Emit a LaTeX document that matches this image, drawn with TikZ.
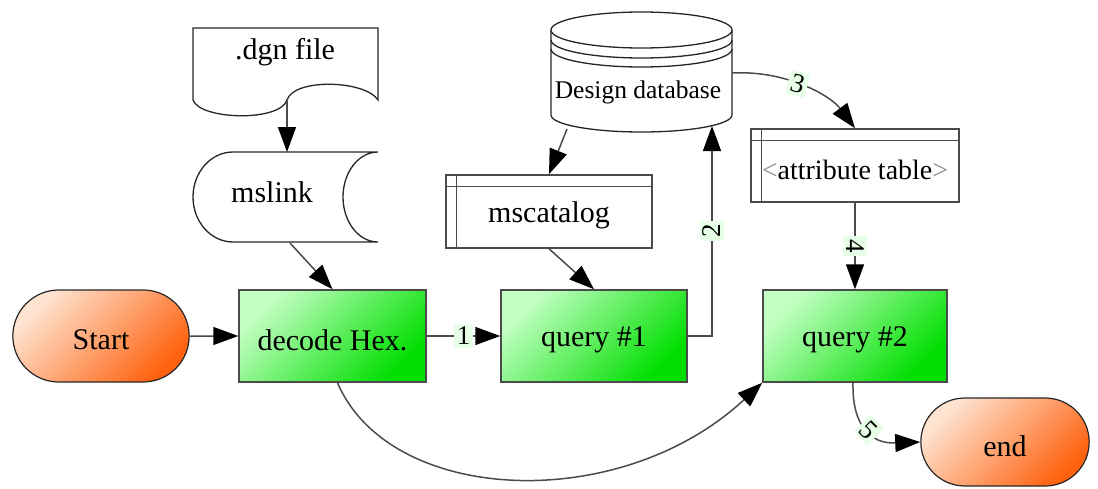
\documentclass[tikz,border=0pt]{standalone}
\usepackage{fontspec}
\setmainfont{LiberationSerif}[Extension=.ttf, UprightFont=*-Regular, BoldFont=*-Bold, ItalicFont=*-Italic, BoldItalicFont=*-BoldItalic]
\usetikzlibrary{shapes.misc,arrows.meta}
\definecolor{gtop}{RGB}{195,255,195}
\definecolor{gbot}{RGB}{0,222,0}
\definecolor{otop}{RGB}{255,228,210}
\definecolor{obot}{RGB}{255,98,15}
\definecolor{labbg}{RGB}{230,255,230}
\definecolor{lin}{RGB}{75,75,75}
\newcommand{\lowtxt}[1]{\raisebox{-4pt}[\height][\depth]{#1}}
\begin{document}
\begin{tikzpicture}[x=1pt,y=-1pt,
  proc/.style={draw=lin, line width=1.5pt, minimum width=186pt, minimum height=92pt,
    top color=gtop, bottom color=gbot, shading angle=45, font=\fontsize{30}{34}\selectfont},
  term/.style={rounded rectangle, draw=black!85, line width=1.2pt, minimum width=183pt, minimum height=92pt,
    top color=otop, bottom color=obot, shading angle=45, font=\fontsize{30}{34}\selectfont},
  tabbox/.style={draw=lin, line width=1.5pt, fill=white, minimum height=73pt, font=\fontsize{30}{34}\selectfont},
  shapeline/.style={draw=black!85, line width=1.3pt},
  txt/.style={font=\fontsize{30}{34}\selectfont},
  conn/.style={draw=lin, line width=1.5pt, -{Triangle[length=25pt,width=18pt,color=black]}},
  elab/.style={fill=labbg, inner sep=3pt, font=\fontsize{27}{29}\selectfont}]
\useasboundingbox (0,0) rectangle (1098,488);

% .dgn file (document shape)
\draw[shapeline, fill=white] (193,100) -- (193,28) -- (378,28) -- (378,100)
  .. controls (365,80) and (294,78) .. (287,100)
  .. controls (280,122) and (200,120) .. (193,100) -- cycle;
\node[txt] (dgn) at (285,52) {.dgn file};
\coordinate (dgnw) at (287,99);

% mslink (stored data shape)
\draw[shapeline, fill=white] (378,152) -- (233,152)
  arc[start angle=90, end angle=270, x radius=40pt, y radius=45pt] -- (378,242)
  arc[start angle=-90, end angle=-270, x radius=35pt, y radius=45pt];
\node[txt] (mslink) at (272,192) {mslink};
\coordinate (mstop) at (287,152);
\coordinate (msbot) at (290,243);

% Design database (cylinder)
\draw[shapeline, fill=white] (551,30) -- (551,115)
  arc[start angle=180, end angle=360, x radius=90.5pt, y radius=17pt] -- (732,30);
\draw[shapeline, fill=white] (641.5,30) ellipse[x radius=90.5pt, y radius=18pt];
\draw[shapeline] (551,40) arc[start angle=180, end angle=360, x radius=90.5pt, y radius=18pt];
\draw[shapeline] (551,49) arc[start angle=180, end angle=360, x radius=90.5pt, y radius=18pt];
\node[font=\fontsize{25.5}{28}\selectfont] (db) at (638,92) {Design database};
\coordinate (dbbl) at (567,129);
\coordinate (dbin) at (712,126);
\coordinate (dbr) at (732,73);

% tables
\node[tabbox, minimum width=206pt] (mscat) at (549,211.5) {\lowtxt{mscatalog}};
\draw[shapeline, draw=lin] ([xshift=11pt]mscat.north west) -- ([xshift=11pt]mscat.south west);
\draw[shapeline, draw=lin] ([yshift=-12pt]mscat.north west) -- ([yshift=-12pt]mscat.north east);
\node[tabbox, minimum width=208pt, font=\fontsize{28}{32}\selectfont] (attr) at (855,165.5)
  {\lowtxt{\textcolor{black!45}{<}attribute table\textcolor{black!45}{>}}};
\draw[shapeline, draw=lin] ([xshift=11pt]attr.north west) -- ([xshift=11pt]attr.south west);
\draw[shapeline, draw=lin] ([yshift=-12pt]attr.north west) -- ([yshift=-12pt]attr.north east);

% process nodes
\node[term] (start) at (101,336) {\lowtxt{Start}};
\node[proc, minimum width=187pt] (dec) at (332.5,336) {\lowtxt{decode Hex.}};
\node[proc] (q1) at (594,336) {\lowtxt{query \#1}};
\node[proc, minimum width=184pt] (q2) at (855,336) {\lowtxt{query \#2}};
\node[term, minimum width=175pt, minimum height=88pt] (end) at (1005,442) {\lowtxt{end}};

% connectors
\draw[conn] (dgnw) -- (mstop);
\draw[conn] (msbot) -- (dec.north);
\draw[conn] (dbbl) -- (mscat.north);
\draw[conn] (mscat.south) -- (q1.north);
\draw[conn] (start) -- (dec);
\draw[conn] (dec) -- node[elab]{1} (q1);
\draw[conn] (q1.east) -| node[elab, rotate=90, pos=0.75]{2} (dbin);
\draw[conn] (dbr) .. controls (785,70) and (830,95) .. node[elab, rotate=-15, pos=0.45]{3} (attr.north);
\draw[conn] (attr) -- node[elab, rotate=-90]{4} (q2);
\draw[conn] ([xshift=-2pt]q2.south) .. controls (852,425) and (870,444) .. node[elab, rotate=-45, pos=0.52]{5} (end.west);
\draw[conn] ([xshift=5pt]dec.south) .. controls (390,505) and (620,515) .. (q2.south west);
\end{tikzpicture}
\end{document}
